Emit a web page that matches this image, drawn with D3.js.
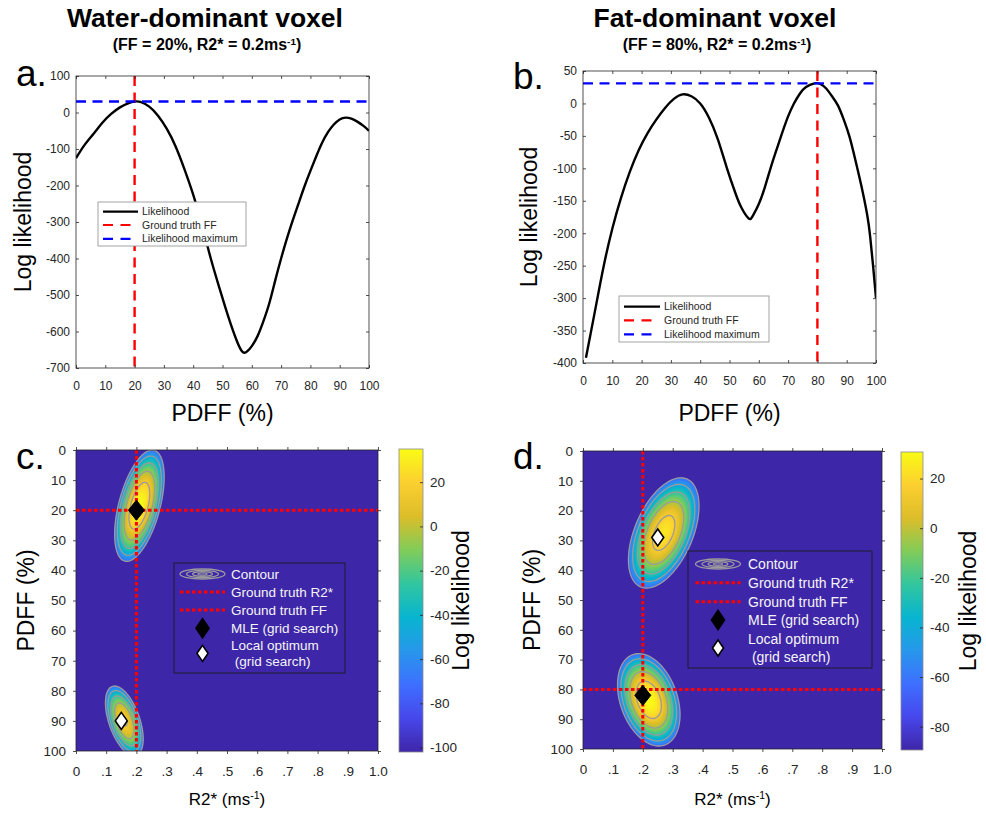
<!DOCTYPE html>
<html><head><meta charset="utf-8">
<script src="https://cdn.jsdelivr.net/npm/d3@7"></script>
<style>
body{margin:0;background:#fff}
svg{display:block}
text{font-family:"Liberation Sans",Arial,Helvetica,sans-serif}
</style>
</head><body>
<svg id="chart" width="986" height="815"></svg>
<script>
// ---------------- DATA ----------------
const pdffA = [0,3,6,9,12,15,18,20,22,25,28,31,34,37,40,43,46,49,52,55,57,58.5,60,62,64,66,68,70,72,74,76,78,80,82,84,86,88,90,92,94,96,98,100];
const llA   = [-125,-88,-58,-28,-4,14,26,30,29,16,-9,-45,-93,-155,-225,-308,-400,-482,-560,-628,-657,-654,-640,-612,-571,-522,-460,-400,-345,-295,-248,-202,-160,-120,-83,-54,-33,-19,-14,-17,-25,-36,-50];
const pdffB = [1,4,7,10,13,16,19,22,25,28,31,34,37,40,43,46,49,52,54,56.5,58,60,62,64,66,68,70,72,74,76,79,81,83,85,87,89,91,93,95,97,98,99,100];
const llB   = [-392,-322,-252,-193,-145,-105,-72,-46,-25,-7,7,14,11,0,-22,-55,-98,-138,-160,-177,-173,-155,-130,-100,-72,-45,-20,0,15,25,31,30,23,11,-3,-25,-52,-88,-127,-172,-205,-250,-300];
const truthFF_A = 20, maxLL_A = 30;
const truthFF_B = 80, maxLL_B = 31;

const pdffTicks = [0,10,20,30,40,50,60,70,80,90,100];
const llTicksA = [100,0,-100,-200,-300,-400,-500,-600,-700];
const llTicksB = [50,0,-50,-100,-150,-200,-250,-300,-350,-400];
const r2Ticks = [0,0.1,0.2,0.3,0.4,0.5,0.6,0.7,0.8,0.9,1.0];
const r2TickLabels = ["0",".1",".2",".3",".4",".5",".6",".7",".8",".9","1.0"];
const ffTicks2D = [0,10,20,30,40,50,60,70,80,90,100];

const legendLabelsAB = ["Likelihood","Ground truth FF","Likelihood maximum"];
const legendLabelsCD = ["Contour","Ground truth R2*","Ground truth FF","MLE (grid search)","Local optimum"," (grid search)"];

// log-likelihood peaks (panel c): centre R2*, centre FF, peak value, half-width (R2*), half-height (FF), FF offset of the widest point
const blobR2C   = [0.21, 0.16];
const blobFFC   = [18.5, 90];
const blobPeakC = [35, 18];
const blobWC    = [0.082, 0.0625];
const blobHC    = [18.5, 11.6];
const blobTiltC = [-9.5, 6];
// panel d
const blobR2D   = [0.27, 0.22];
const blobFFD   = [27.5, 83.5];
const blobPeakD = [24, 30.7];
const blobWD    = [0.118, 0.1045];
const blobHD    = [18.5, 15.5];
const blobTiltD = [-9, 5];

const floorC = -72, floorD = -65;
const cbarRangeC = [-102, 35];
const cbarRangeD = [-89.4, 30.7];
const contourLevelsC = [-72,-50,-28,-6,16];
const contourLevelsD = [-65,-45,-25,-5,15];
const cbarTicksC = [20,0,-20,-40,-60,-80,-100];
const cbarTicksD = [20,0,-20,-40,-60,-80];

const truthC = [0.2, 20], mleC = [0.2, 20], localC = [0.15, 90];
const truthD = [0.2, 80], mleD = [0.2, 82], localD = [0.25, 29];

// parula colormap stops
const parulaStops = [[0.2422,0.1504,0.6603],[0.2803,0.2782,0.9221],[0.2440,0.4358,0.9988],[0.1540,0.5902,0.9218],[0.0297,0.7082,0.8163],[0.1938,0.7758,0.6251],[0.5044,0.7993,0.3480],[0.8634,0.7406,0.1596],[0.9892,0.8136,0.1885],[0.9769,0.9839,0.0805]];
const parulaHex = parulaStops.map(c => d3.rgb(c[0]*255, c[1]*255, c[2]*255).formatHex());
const parulaLin = t => {
  t = Math.max(0, Math.min(1, t));
  const n = parulaHex.length - 1, i = Math.min(n - 1, Math.floor(t * n));
  return d3.interpolateRgb(parulaHex[i], parulaHex[i+1])(t * n - i);
};

// ---------------- DRAW ----------------
const svg = d3.select("#chart");
const INK = "#262626";
const defs = svg.append("defs");

function txt(x, y, s, size, opts = {}) {
  return svg.append("text").attr("x", x).attr("y", y).attr("font-size", size)
    .attr("text-anchor", opts.anchor || "middle").attr("font-weight", opts.bold ? "bold" : null)
    .attr("fill", opts.fill || "#000").text(s);
}
function withSup(sel, before, sup, after) {
  sel.text(null);
  sel.append("tspan").text(before);
  sel.append("tspan").attr("font-size", "0.62em").attr("dy", "-0.55em").text(sup);
  sel.append("tspan").attr("dy", "0.34em").text(after);
}
function rotLabel(x, y, s, size) {
  return svg.append("text").attr("transform", `translate(${x},${y}) rotate(-90)`)
    .attr("text-anchor", "middle").attr("font-size", size).attr("fill", "#000").text(s);
}

// Titles
txt(205, 27, "Water-dominant voxel", 26.5, {bold: true});
withSup(txt(207, 50, "", 16, {bold: true}), "(FF = 20%, R2* = 0.2ms", "-1", ")");
txt(715, 27, "Fat-dominant voxel", 26.5, {bold: true});
withSup(txt(717, 50, "", 16, {bold: true}), "(FF = 80%, R2* = 0.2ms", "-1", ")");
txt(16, 86, "a.", 37, {anchor: "start"});
txt(513, 89, "b.", 37, {anchor: "start"});
txt(16, 469, "c.", 37, {anchor: "start"});
txt(513, 469, "d.", 37, {anchor: "start"});

function styleAxis(g, size) {
  g.select(".domain").remove();
  g.selectAll(".tick line").attr("stroke", INK).attr("stroke-width", 0.8);
  g.selectAll(".tick text").attr("fill", INK).attr("font-size", size)
   .attr("font-family", '"Liberation Sans",Arial,Helvetica,sans-serif');
}

function linePanel(p) {
  const x = d3.scaleLinear().domain([0, 100]).range([p.x0, p.x1]);
  const y = d3.scaleLinear().domain(p.ydom).range([p.y1, p.y0]);
  const id = "clip" + p.name;
  defs.append("clipPath").attr("id", id).append("rect")
    .attr("x", p.x0).attr("y", p.y0).attr("width", p.x1 - p.x0).attr("height", p.y1 - p.y0);
  const g = svg.append("g");
  const pl = g.append("g").attr("clip-path", `url(#${id})`);
  pl.append("path").datum(d3.zip(p.pd, p.ll))
    .attr("d", d3.line().x(d => x(d[0])).y(d => y(d[1])).curve(d3.curveNatural))
    .attr("fill", "none").attr("stroke", "#000").attr("stroke-width", 2.4);
  pl.append("line").attr("x1", x(p.truth)).attr("x2", x(p.truth)).attr("y1", p.y0).attr("y2", p.y1)
    .attr("stroke", "#ff0000").attr("stroke-width", 2.4).attr("stroke-dasharray", "10,6.5");
  pl.append("line").attr("x1", p.x0).attr("x2", p.x1).attr("y1", y(p.maxv)).attr("y2", y(p.maxv))
    .attr("stroke", "#0000ff").attr("stroke-width", 2.4).attr("stroke-dasharray", "10,6.5");
  // axes
  styleAxis(g.append("g").attr("transform", `translate(0,${p.y1})`)
    .call(d3.axisBottom(x).tickValues(pdffTicks).tickSize(-3).tickPadding(13).tickFormat(d3.format("d"))), 12);
  styleAxis(g.append("g").attr("transform", `translate(0,${p.y0})`)
    .call(d3.axisTop(x).tickValues(pdffTicks).tickSize(-3).tickFormat("")), 12);
  styleAxis(g.append("g").attr("transform", `translate(${p.x0},0)`)
    .call(d3.axisLeft(y).tickValues(p.yt).tickSize(-3).tickPadding(6).tickFormat(d => String(d))), 12);
  styleAxis(g.append("g").attr("transform", `translate(${p.x1},0)`)
    .call(d3.axisRight(y).tickValues(p.yt).tickSize(-3).tickFormat("")), 12);
  g.append("rect").attr("x", p.x0).attr("y", p.y0).attr("width", p.x1 - p.x0).attr("height", p.y1 - p.y0)
    .attr("fill", "none").attr("stroke", INK).attr("stroke-width", 0.8);
  // legend
  const L = p.leg;
  g.append("rect").attr("x", L.x0).attr("y", L.y0).attr("width", L.x1 - L.x0).attr("height", L.y1 - L.y0)
    .attr("fill", "#fff").attr("stroke", "#9a9a9a").attr("stroke-width", 0.9);
  const styles = [["#000", null], ["#ff0000", "10,7.5"], ["#0000ff", "10,7.5"]];
  legendLabelsAB.forEach((s, i) => {
    const yy = L.rows[i];
    g.append("line").attr("x1", L.lx0).attr("x2", styles[i][1] ? L.lx0 + 28 : L.lx1).attr("y1", yy).attr("y2", yy)
      .attr("stroke", styles[i][0]).attr("stroke-width", 2.2).attr("stroke-dasharray", styles[i][1]);
    g.append("text").attr("x", L.tx).attr("y", yy).attr("dy", "0.35em").attr("font-size", 10.5)
      .attr("fill", INK).text(s);
  });
  rotLabel(p.ylabX, (p.y0 + p.y1) / 2, "Log likelihood", 23);
  txt((p.x0 + p.x1) / 2, p.xlabY, "PDFF (%)", 23);
}

linePanel({name: "a", x0: 76, x1: 369, y0: 76, y1: 368, ydom: [-700, 100], yt: llTicksA,
  pd: pdffA, ll: llA, truth: truthFF_A, maxv: maxLL_A, ylabX: 31, xlabY: 421,
  leg: {x0: 98, x1: 246, y0: 202, y1: 246, rows: [211.7, 225, 238.8], lx0: 103, lx1: 138, tx: 142}});
linePanel({name: "b", x0: 583, x1: 876, y0: 71, y1: 363, ydom: [-400, 50], yt: llTicksB,
  pd: pdffB, ll: llB, truth: truthFF_B, maxv: maxLL_B, ylabX: 537, xlabY: 421,
  leg: {x0: 619, x1: 769, y0: 296, y1: 342, rows: [306.7, 320.3, 334.3], lx0: 624, lx1: 660, tx: 664}});

// ---- heat maps ----
function heatPanel(p) {
  const x = d3.scaleLinear().domain([0, 1]).range([p.x0, p.x1]);
  const y = d3.scaleLinear().domain([0, 100]).range([p.y0, p.y1]);
  const [cmin, cmax] = p.crange;
  const color = v => parulaLin((v - cmin) / (cmax - cmin));
  const id = "clip" + p.name;
  defs.append("clipPath").attr("id", id).append("rect")
    .attr("x", p.x0).attr("y", p.y0).attr("width", p.x1 - p.x0).attr("height", p.y1 - p.y0);
  const g = svg.append("g");
  const pl = g.append("g").attr("clip-path", `url(#${id})`);
  pl.append("rect").attr("x", p.x0).attr("y", p.y0).attr("width", p.x1 - p.x0).attr("height", p.y1 - p.y0)
    .attr("fill", color(cmin));
  // grid of log-likelihood values (R2* step 0.005, FF step 0.5)
  const n = 201, step = 0.5;
  const blobs = p.r2.map((r, k) => {
    const W = p.w[k] * 100, H = p.h[k], c = p.tilt[k] * W;
    const a = W * W, dd = H * H, det = a * dd - c * c;
    return {cx: r * 100, cy: p.ff[k], peak: p.peak[k], a, dd, c, det};
  });
  const vals = new Float64Array(n * n);
  for (let j = 0; j < n; j++) for (let i = 0; i < n; i++) {
    const X = i * step, Y = j * step;
    let best = -1e9;
    for (const b of blobs) {
      const dx = X - b.cx, dy = Y - b.cy;
      const r2 = (b.dd * dx * dx - 2 * b.c * dx * dy + b.a * dy * dy) / b.det;
      const v = b.peak - (b.peak - p.floor) * r2;
      if (v > best) best = v;
    }
    vals[j * n + i] = best;
  }
  const proj = d3.geoTransform({point(px, py) {
    this.stream.point(x((px - 0.5) * step / 100), y((py - 0.5) * step));
  }});
  const path = d3.geoPath(proj);
  const bandStep = 1.5;
  const bands = d3.range(p.floor, cmax + bandStep, bandStep);
  const filled = d3.contours().size([n, n]).thresholds(bands)(vals);
  pl.selectAll("path.band").data(filled).join("path").attr("class", "band")
    .attr("d", path).attr("fill", d => color(Math.min(d.value + bandStep / 2, cmax)))
    .attr("stroke", d => color(Math.min(d.value + bandStep / 2, cmax))).attr("stroke-width", 0.3);
  const lines = d3.contours().size([n, n]).thresholds(p.levels)(vals);
  pl.selectAll("path.cl").data(lines).join("path").attr("class", "cl")
    .attr("d", path).attr("fill", "none").attr("stroke", "#9b9b9b").attr("stroke-width", 1.3);
  // ground truth lines
  pl.append("line").attr("x1", x(p.truth[0])).attr("x2", x(p.truth[0])).attr("y1", p.y0).attr("y2", p.y1)
    .attr("stroke", "#ff0000").attr("stroke-width", 3).attr("stroke-dasharray", "3.5,2.5");
  pl.append("line").attr("x1", p.x0).attr("x2", p.x1).attr("y1", y(p.truth[1])).attr("y2", y(p.truth[1]))
    .attr("stroke", "#ff0000").attr("stroke-width", 3).attr("stroke-dasharray", "3.5,2.5");
  const diamond = (cx, cy, w, h) => `M${cx},${cy - h / 2}L${cx + w / 2},${cy}L${cx},${cy + h / 2}L${cx - w / 2},${cy}Z`;
  pl.append("path").attr("d", diamond(x(p.mle[0]), y(p.mle[1]), 16, 20)).attr("fill", "#000").attr("stroke", "#000");
  pl.append("path").attr("d", diamond(x(p.local[0]), y(p.local[1]), 12, 17)).attr("fill", "#fff")
    .attr("stroke", "#000").attr("stroke-width", 1.6);
  // axes
  styleAxis(g.append("g").attr("transform", `translate(0,${p.y1})`)
    .call(d3.axisBottom(x).tickValues(r2Ticks).tickSize(3).tickPadding(12.5).tickFormat((d, i) => r2TickLabels[i])), 13.5);
  styleAxis(g.append("g").attr("transform", `translate(0,${p.y0})`)
    .call(d3.axisTop(x).tickValues(r2Ticks).tickSize(3).tickFormat("")), 13.5);
  styleAxis(g.append("g").attr("transform", `translate(${p.x0},0)`)
    .call(d3.axisLeft(y).tickValues(ffTicks2D).tickSize(3).tickPadding(7).tickFormat(d3.format("d"))), 13.5);
  styleAxis(g.append("g").attr("transform", `translate(${p.x1},0)`)
    .call(d3.axisRight(y).tickValues(ffTicks2D).tickSize(3).tickFormat("")), 13.5);
  g.append("rect").attr("x", p.x0).attr("y", p.y0).attr("width", p.x1 - p.x0).attr("height", p.y1 - p.y0)
    .attr("fill", "none").attr("stroke", INK).attr("stroke-width", 0.8);
  // legend
  const L = p.leg;
  g.append("rect").attr("x", L.x0).attr("y", L.y0).attr("width", L.x1 - L.x0).attr("height", L.y1 - L.y0)
    .attr("fill", color(cmin)).attr("stroke", "#1c1c2a").attr("stroke-width", 1);
  [[22.5, 5], [16, 3.6], [10, 2.3], [4.5, 1.1]].forEach(e => {
    g.append("ellipse").attr("cx", L.ix).attr("cy", L.rows[0]).attr("rx", e[0]).attr("ry", e[1])
      .attr("fill", "none").attr("stroke", "#9b9b9b").attr("stroke-width", 1.3);
  });
  [1, 2].forEach(i => g.append("line").attr("x1", L.ix - 22.5).attr("x2", L.ix + 22.5)
    .attr("y1", L.rows[i]).attr("y2", L.rows[i]).attr("stroke", "#ff0000").attr("stroke-width", 3)
    .attr("stroke-dasharray", "3.5,2.5"));
  g.append("path").attr("d", diamond(L.ix, L.rows[3], 15, 22)).attr("fill", "#000");
  g.append("path").attr("d", diamond(L.ix, (L.rows[4] + L.rows[5]) / 2, 11, 16)).attr("fill", "#fff")
    .attr("stroke", "#000").attr("stroke-width", 1.6);
  legendLabelsCD.forEach((s, i) => {
    g.append("text").attr("x", L.tx).attr("y", L.rows[i]).attr("dy", "0.35em").attr("font-size", L.fs)
      .attr("fill", "#f4f4f4").attr("xml:space", "preserve").style("white-space", "pre").text(s);
  });
  // colorbar
  const gid = "grad" + p.name;
  const grad = defs.append("linearGradient").attr("id", gid).attr("x1", 0).attr("y1", 1).attr("x2", 0).attr("y2", 0);
  parulaHex.forEach((c, i) => grad.append("stop").attr("offset", i / (parulaHex.length - 1)).attr("stop-color", c));
  const C = p.cb;
  const cy = d3.scaleLinear().domain(p.crange).range([C.y1, C.y0]);
  g.append("rect").attr("x", C.x0).attr("y", C.y0).attr("width", C.x1 - C.x0).attr("height", C.y1 - C.y0)
    .attr("fill", `url(#${gid})`).attr("stroke", "#8c8c8c").attr("stroke-width", 0.8);
  styleAxis(g.append("g").attr("transform", `translate(${C.x1},0)`)
    .call(d3.axisRight(cy).tickValues(p.cticks).tickSize(-3).tickPadding(7).tickFormat(d => String(d))), 13.5);
  rotLabel(C.labX, (C.y0 + C.y1) / 2, "Log likelihood", 23);
  rotLabel(p.ylabX, (p.y0 + p.y1) / 2, "PDFF (%)", 23);
  withSup(txt((p.x0 + p.x1) / 2, p.xlabY, "", 17), "R2* (ms", "-1", ")");
}

heatPanel({name: "c", x0: 76, x1: 378, y0: 450, y1: 751, crange: cbarRangeC, floor: floorC, levels: contourLevelsC,
  r2: blobR2C, ff: blobFFC, peak: blobPeakC, w: blobWC, h: blobHC, tilt: blobTiltC,
  truth: truthC, mle: mleC, local: localC, cticks: cbarTicksC, ylabX: 34, xlabY: 805,
  leg: {x0: 174, x1: 345, y0: 563, y1: 673, ix: 202.5, tx: 231, fs: 13.5, rows: [574, 592, 610, 628.3, 645, 661.7]},
  cb: {x0: 399, x1: 423, y0: 449, y1: 752, labX: 469}});
heatPanel({name: "d", x0: 583, x1: 882, y0: 451, y1: 749, crange: cbarRangeD, floor: floorD, levels: contourLevelsD,
  r2: blobR2D, ff: blobFFD, peak: blobPeakD, w: blobWD, h: blobHD, tilt: blobTiltD,
  truth: truthD, mle: mleD, local: localD, cticks: cbarTicksD, ylabX: 540, xlabY: 805,
  leg: {x0: 688, x1: 872, y0: 551, y1: 668, ix: 718, tx: 748, fs: 14, rows: [564, 582.7, 601.7, 620, 639.3, 656.7]},
  cb: {x0: 901, x1: 923, y0: 452, y1: 750, labX: 976}});
</script>
</body></html>
